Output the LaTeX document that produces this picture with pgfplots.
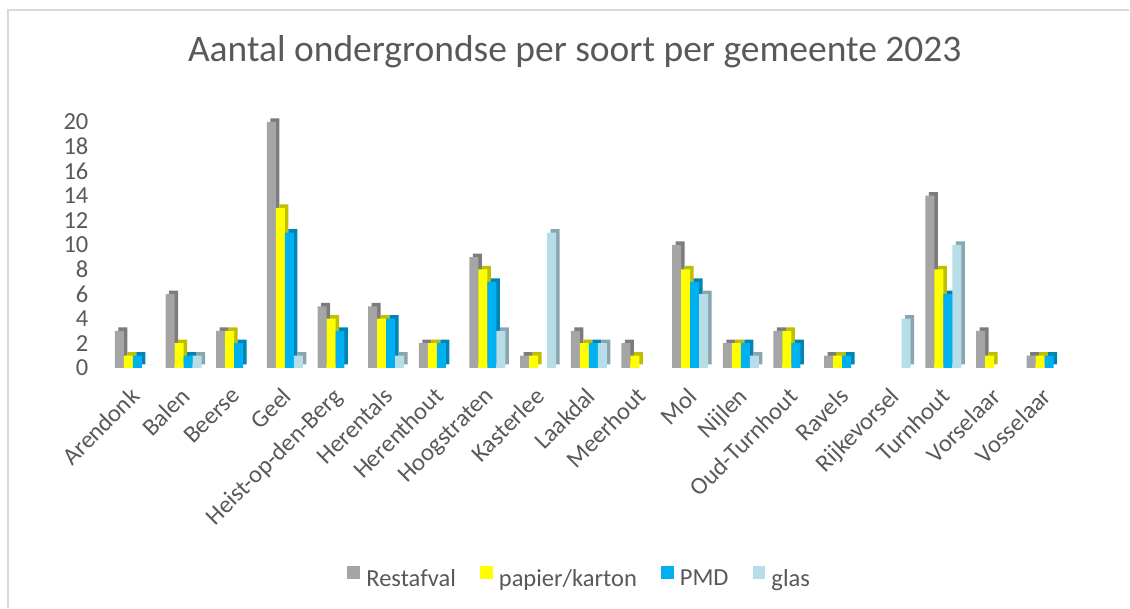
\documentclass[border=0pt]{standalone}
\usepackage{pgfplots}
\pgfplotsset{compat=1.18}
\usepackage{fontspec}
\setmainfont{Carlito}
\definecolor{txt}{HTML}{595959}
\definecolor{bord}{HTML}{D9D9D9}
\definecolor{cR}{HTML}{A5A5A5}\definecolor{sR}{HTML}{7C7C7C}
\definecolor{cP}{HTML}{FFFF00}\definecolor{sP}{HTML}{BFBF00}
\definecolor{cM}{HTML}{00B0F0}\definecolor{sM}{HTML}{0084B4}
\definecolor{cG}{HTML}{B7DEE8}\definecolor{sG}{HTML}{89A6AE}
\begin{document}
\begin{tikzpicture}
\path (0pt,0pt) rectangle (1130pt,608pt);
\draw[color=bord, line width=1.2pt] (8pt,0pt) -- (8pt,598pt) -- (1130pt,598pt);
\node[font=\fontsize{37.5}{42}\selectfont, text=txt] at (575pt,556pt) {Aantal ondergrondse per soort per gemeente 2023};
\begin{axis}[
 at={(107.6pt,240pt)}, anchor=south west, scale only axis,
 width=963pt, height=246pt,
 xmin=-0.5, xmax=18.5, ymin=0, ymax=20,
 ybar, bar width=9pt,
 clip=false,
 axis line style={draw=none}, major tick length=0pt,
 ytick={0,2,...,20},
 xtick={0,...,18},
 xticklabels={Arendonk,Balen,Beerse,Geel,Heist-op-den-Berg,Herentals,Herenthout,Hoogstraten,Kasterlee,Laakdal,Meerhout,Mol,Nijlen,Oud-Turnhout,Ravels,Rijkevorsel,Turnhout,Vorselaar,Vosselaar},
 /pgf/number format/assume math mode=true,
 ticklabel style={font=\fontsize{24.5}{28}\selectfont, text=txt, inner sep=0pt},
 yticklabel style={anchor=east, xshift=-19pt},
 xticklabel style={xshift=-4pt, yshift=-18pt, rotate=45, anchor=north east},
 legend style={at={(0.4895,-0.85)}, anchor=center, draw=none, legend columns=4,
   font=\fontsize{24.5}{28}\selectfont, text=txt, column sep=0pt,
   nodes={inner sep=0pt},
   /tikz/every even column/.append style={column sep=24pt}},
 legend cell align=left,
 legend image code/.code={\fill[#1] (0pt,0pt) rectangle (13pt,13pt); \path (19pt,0pt);},
]
% Restafval
\addplot[forget plot, fill=sR, draw=none, bar shift=-10pt, yshift=3.5pt] coordinates {(0,3)(1,6)(2,3)(3,20)(4,5)(5,5)(6,2)(7,9)(8,1)(9,3)(10,2)(11,10)(12,2)(13,3)(14,1)(16,14)(17,3)(18,1)};
\addplot[fill=cR, draw=none, bar shift=-13.5pt] coordinates {(0,3)(1,6)(2,3)(3,20)(4,5)(5,5)(6,2)(7,9)(8,1)(9,3)(10,2)(11,10)(12,2)(13,3)(14,1)(16,14)(17,3)(18,1)};
% papier/karton
\addplot[forget plot, fill=sP, draw=none, bar shift=-1pt, yshift=3.5pt] coordinates {(0,1)(1,2)(2,3)(3,13)(4,4)(5,4)(6,2)(7,8)(8,1)(9,2)(10,1)(11,8)(12,2)(13,3)(14,1)(16,8)(17,1)(18,1)};
\addplot[fill=cP, draw=none, bar shift=-4.5pt] coordinates {(0,1)(1,2)(2,3)(3,13)(4,4)(5,4)(6,2)(7,8)(8,1)(9,2)(10,1)(11,8)(12,2)(13,3)(14,1)(16,8)(17,1)(18,1)};
% PMD
\addplot[forget plot, fill=sM, draw=none, bar shift=8pt, yshift=3.5pt] coordinates {(0,1)(1,1)(2,2)(3,11)(4,3)(5,4)(6,2)(7,7)(9,2)(11,7)(12,2)(13,2)(14,1)(16,6)(18,1)};
\addplot[fill=cM, draw=none, bar shift=4.5pt] coordinates {(0,1)(1,1)(2,2)(3,11)(4,3)(5,4)(6,2)(7,7)(9,2)(11,7)(12,2)(13,2)(14,1)(16,6)(18,1)};
% glas
\addplot[forget plot, fill=sG, draw=none, bar shift=17pt, yshift=3.5pt] coordinates {(0,0)(1,1)(3,1)(5,1)(7,3)(8,11)(9,2)(11,6)(12,1)(15,4)(16,10)};
\addplot[fill=cG, draw=none, bar shift=13.5pt] coordinates {(0,0)(1,1)(3,1)(5,1)(7,3)(8,11)(9,2)(11,6)(12,1)(15,4)(16,10)};
\legend{Restafval,papier/karton,PMD,glas}
\end{axis}
\end{tikzpicture}
\end{document}
